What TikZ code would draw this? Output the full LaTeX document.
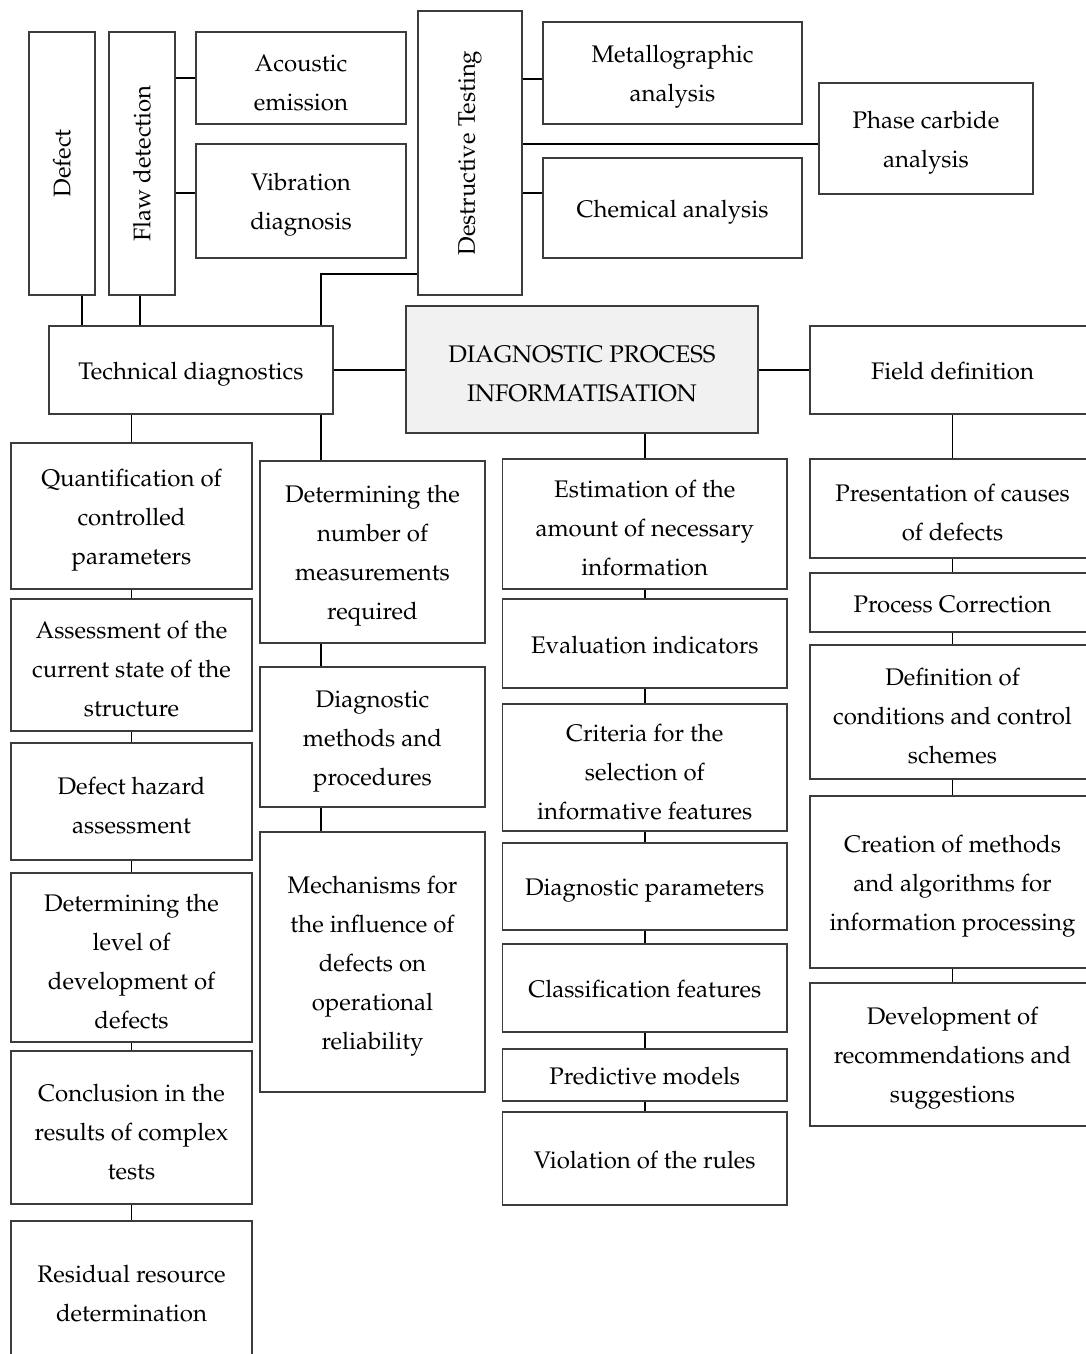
\documentclass[tikz,border=0pt]{standalone}
\usepackage[T1]{fontenc}
\usepackage{mathpazo}
\usetikzlibrary{calc}
\definecolor{boxline}{HTML}{3C3C3C}
\definecolor{mainfill}{HTML}{F1F1F1}
\newcommand{\tl}{\rule{0pt}{12.8pt}}
\newcommand{\tls}{\rule[-3pt]{0pt}{15.8pt}}
\tikzset{
  blk/.style={draw=boxline, line width=0.55pt, align=center, inner sep=0pt,
    font=\fontsize{12}{19.5}\selectfont},
  sz/.style 2 args={minimum width=#1*0.5pt, minimum height=#2*0.5pt},
  link/.style={draw=black, line width=0.85pt},
}
\begin{document}
\begin{tikzpicture}[x=0.5pt, y=-0.5pt]
		%%%%% START %%%%%
		\useasboundingbox (0,0) rectangle (1086,1354);
		\clip (0,0) rectangle (1086,1354);
		
		% top row
		\node[blk, sz={66}{263}] (defect) at (62,163.5) {\rotatebox{90}{Defect}};
		\node[blk, sz={66}{263}] (flaw) at (142,163.5) {\rotatebox{90}{Flaw detection}};
		\node[blk, sz={210}{92}] (acoustic) at (301,78) {\tl Acoustic\\emission};
		\node[blk, sz={210}{114}] (vibration) at (301,201) {\tl Vibration\\diagnosis};
		\node[blk, sz={104}{284}] (destr) at (470,153) {\rotatebox{90}{Destructive Testing}};
		\node[blk, sz={259}{102}] (metal) at (672.5,73) {\tl Metallographic\\analysis};
		\node[blk, sz={259}{100}] (chem) at (672.5,208) {\tls Chemical analysis};
		\node[blk, sz={214}{111}] (phase) at (926,138.5) {\tl Phase carbide\\analysis};
		
		% middle row
		\node[blk, sz={284}{88}] (techdiag) at (191,370) {\tls Technical diagnostics};
		\node[blk, sz={352}{127}, fill=mainfill] (dpi) at (582,369.5) {\tl DIAGNOSTIC PROCESS\\INFORMATISATION};
		\node[blk, sz={285}{88}] (field) at (952.5,370) {\tls Field definition};
		
		% column 1
		\node[blk, sz={241}{146}] (quant) at (131.5,516) {\tl Quantification of\\controlled\\parameters};
		\node[blk, sz={241}{132}] (assess) at (131.5,665) {\tl Assessment of the\\current state of the\\structure};
		\node[blk, sz={241}{117}] (hazard) at (131.5,801.5) {\tl Defect hazard\\assessment};
		\node[blk, sz={241}{169}] (level) at (131.5,957.5) {\tl Determining the\\level of\\development of\\defects};
		\node[blk, sz={241}{153}] (concl) at (131.5,1127.5) {\tl Conclusion in the\\results of complex\\tests};
		\node[blk, sz={241}{137}] (resid) at (131.5,1289.5) {\tl Residual resource\\determination};
		
		% column 2
		\node[blk, sz={225}{182}] (nummeas) at (372.5,552) {\tl Determining the\\number of\\measurements\\required};
		\node[blk, sz={225}{140}] (methods) at (372.5,737) {\tl Diagnostic\\methods and\\procedures};
		\node[blk, sz={225}{260}] (mech) at (372.5,962) {\tl Mechanisms for\\the influence of\\defects on\\operational\\reliability};
		
		% column 3
		\node[blk, sz={284.5}{130}] (estim) at (644.75,524) {\tl Estimation of the\\amount of necessary\\information};
		\node[blk, sz={284.5}{89}] (evalind) at (644.75,643.5) {\tls Evaluation indicators};
		\node[blk, sz={284.5}{127}] (criteria) at (644.75,767.5) {\tl Criteria for the\\selection of\\informative features};
		\node[blk, sz={284.5}{87}] (diagpar) at (644.75,886.5) {\tls Diagnostic parameters};
		\node[blk, sz={284.5}{88}] (classif) at (644.75,988) {\tls Classification features};
		\node[blk, sz={284.5}{52}] (predict) at (644.75,1075) {\tls Predictive models};
		\node[blk, sz={284.5}{93}] (violat) at (644.75,1158.5) {\tls Violation of the rules};
		
		% column 4
		\node[blk, sz={285}{99}] (causes) at (952.5,508.5) {\tl Presentation of causes\\of defects};
		\node[blk, sz={285}{59}] (proccorr) at (952.5,602.5) {\tls Process Correction};
		\node[blk, sz={285}{134}] (condit) at (952.5,712) {\tl Definition of\\conditions and control\\schemes};
		\node[blk, sz={285}{172}] (creation) at (952.5,882) {\tl Creation of methods\\and algorithms for\\information processing};
		\node[blk, sz={285}{143}] (recomm) at (952.5,1054.5) {\tl Development of\\recommendations and\\suggestions};
		
		% links of the top row
		\draw[link] ([xshift=10pt]defect.south) -- ([xshift=10pt]defect.south |- techdiag.north);
		\draw[link] ([xshift=-1pt]flaw.south) -- ([xshift=-1pt]flaw.south |- techdiag.north);
		\draw[link] (acoustic.west) -- (acoustic.west -| flaw.east);
		\draw[link] ([yshift=4pt]vibration.west) -- ([yshift=4pt]vibration.west -| flaw.east);
		\draw[link] ([yshift=-3pt]metal.west) -- ([yshift=-3pt]metal.west -| destr.east);
		\draw[link] ([yshift=-2.75pt]phase.west) -- ([yshift=-2.75pt]phase.west -| destr.east);
		\draw[link] ([yshift=7.5pt]chem.west) -- ([yshift=7.5pt]chem.west -| destr.east);
		\draw[link] ([yshift=-60.5pt]destr.west) -| ([xshift=65pt]techdiag.north);
		
		% links of the middle row
		\draw[link] (techdiag.east) -- (techdiag.east -| dpi.west);
		\draw[link] (field.west) -- (field.west -| dpi.east);
		
		% links of the columns
		\coordinate (tdx) at ([xshift=65pt]techdiag.south);
		\draw[link] (tdx) -- (tdx |- nummeas.north);
		\draw[link] (tdx |- nummeas.south) -- (tdx |- methods.north);
		\draw[link] (tdx |- methods.south) -- (tdx |- mech.north);
		\draw[link] (quant.north) -- (quant.north |- techdiag.south);
		\draw[link] (estim.north) -- (estim.north |- dpi.south);
		\draw[link] (causes.north) -- (causes.north |- field.south);
		\foreach \a/\b in {quant/assess, assess/hazard, hazard/level, level/concl, concl/resid,
			estim/evalind, evalind/criteria, criteria/diagpar, diagpar/classif, classif/predict, predict/violat,
			causes/proccorr, proccorr/condit, condit/creation, creation/recomm}
			\draw[link] (\a.south) -- (\b.north);
		
		%%%%% END %%%%%
\end{tikzpicture}
\end{document}
